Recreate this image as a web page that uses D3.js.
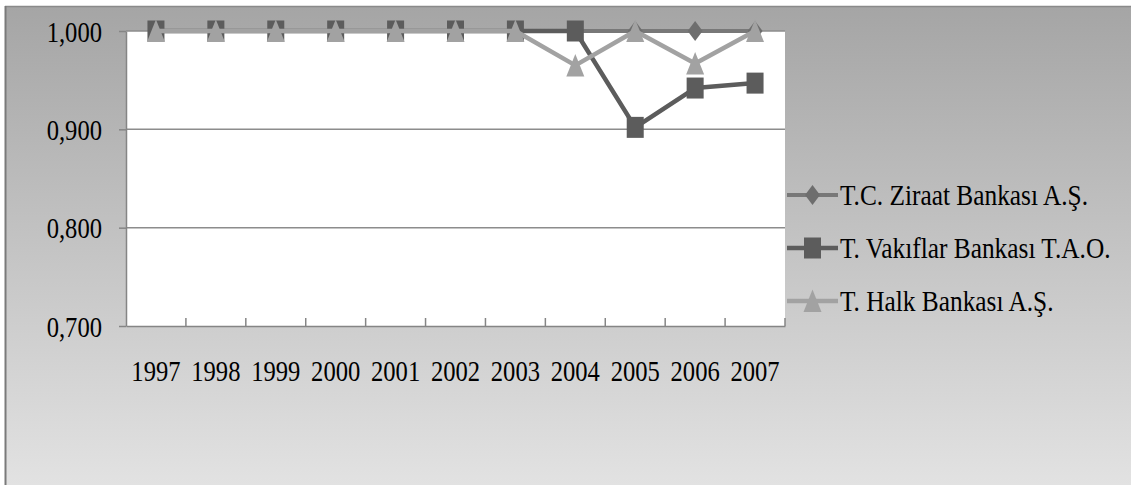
<!DOCTYPE html>
<html>
<head>
<meta charset="utf-8">
<script src="https://cdn.jsdelivr.net/npm/d3@7"></script>
<style>
  html, body { margin: 0; padding: 0; background: #fff; }
  svg { display: block; }
  text { font-family: "Liberation Serif", "Times New Roman", "DejaVu Serif", serif; fill: #000; }
</style>
</head>
<body>
<svg id="chart" width="1131" height="485"></svg>
<script>
// data
var years = ["1997", "1998", "1999", "2000", "2001", "2002", "2003", "2004", "2005", "2006", "2007"];
var ziraat = [1.000, 1.000, 1.000, 1.000, 1.000, 1.000, 1.000, 1.000, 1.000, 1.000, 1.000];
var vakiflar = [1.000, 1.000, 1.000, 1.000, 1.000, 1.000, 1.000, 1.000, 0.902, 0.942, 0.947];
var halk = [1.000, 1.000, 1.000, 1.000, 1.000, 1.000, 1.000, 0.965, 1.000, 0.967, 1.000];
var seriesNames = ["T.C. Ziraat Bankası A.Ş.", "T. Vakıflar Bankası T.A.O.", "T. Halk Bankası A.Ş."];
var yTicks = [0.7, 0.8, 0.9, 1.0];

var W = 1131, H = 485;
var sx = 0.82; // text looks horizontally squeezed
var svg = d3.select("#chart");

var defs = svg.append("defs");
var grad = defs.append("linearGradient").attr("id", "bg").attr("x1", 0).attr("y1", 0).attr("x2", 0).attr("y2", 1);
grad.append("stop").attr("offset", "0%").attr("stop-color", "#a5a5a5");
grad.append("stop").attr("offset", "100%").attr("stop-color", "#e2e2e2");

// chart area background + border
svg.append("rect").attr("x", 5).attr("y", 6).attr("width", W - 5).attr("height", H - 6).attr("fill", "url(#bg)");
svg.append("line").attr("x1", 5).attr("x2", W).attr("y1", 6.5).attr("y2", 6.5).attr("stroke", "#8a8a8a").attr("stroke-width", 1.5);
svg.append("line").attr("x1", 5.5).attr("x2", 5.5).attr("y1", 6).attr("y2", H).attr("stroke", "#7a7a7a").attr("stroke-width", 2);

var plot = { left: 126, right: 785, top: 31, bottom: 326 };

var x = d3.scaleBand().domain(years).range([plot.left, plot.right]).padding(0);
var y = d3.scaleLinear().domain([0.7, 1.0]).range([plot.bottom, plot.top]);

svg.append("rect").attr("x", plot.left).attr("y", plot.top)
  .attr("width", plot.right - plot.left).attr("height", plot.bottom - plot.top).attr("fill", "#fff");

// gridlines
svg.append("g").selectAll("line").data(yTicks.filter(function(d) { return d > 0.7; })).enter()
  .append("line")
  .attr("x1", plot.left).attr("x2", plot.right)
  .attr("y1", function(d) { return y(d); }).attr("y2", function(d) { return y(d); })
  .attr("stroke", "#8c8c8c").attr("stroke-width", 1.5);

var fmt = d3.formatLocale({ decimal: ",", thousands: ".", grouping: [3], currency: ["", ""] }).format(".3f");

// y axis
var yAxis = svg.append("g").attr("transform", "translate(" + plot.left + ",0)")
  .call(d3.axisLeft(y).tickValues(yTicks).tickFormat(fmt).tickSize(7).tickSizeOuter(0));
yAxis.attr("font-family", null);
yAxis.select(".domain").attr("stroke", "#858585").attr("stroke-width", 1.5);
yAxis.selectAll(".tick line").attr("stroke", "#858585").attr("stroke-width", 1.5);
yAxis.selectAll(".tick text")
  .attr("x", -24 / sx).attr("dy", "0.34em")
  .attr("transform", "scale(" + sx + ",1)")
  .style("font-size", "30px").attr("fill", "#000");

// x axis: labels at band centres, ticks at band edges
var xAxis = svg.append("g").attr("transform", "translate(0," + plot.bottom + ")")
  .call(d3.axisBottom(x).tickSize(0).tickSizeOuter(0));
xAxis.attr("font-family", null);
xAxis.select(".domain").attr("stroke", "#858585").attr("stroke-width", 1.5);
xAxis.selectAll(".tick text")
  .attr("y", 55).attr("dy", null)
  .attr("transform", "scale(" + sx + ",1)")
  .style("font-size", "30px").attr("fill", "#000");
var edges = years.map(function(d) { return x(d); }).concat([x(years[years.length - 1]) + x.bandwidth()]);
xAxis.selectAll(".edge").data(edges.slice(1)).enter().append("line")
  .attr("x1", function(d) { return d; }).attr("x2", function(d) { return d; })
  .attr("y1", 0).attr("y2", -8)
  .attr("stroke", "#858585").attr("stroke-width", 1.5);

// marker shapes (stretched vertically like the picture)
function marker(g, kind, color) {
  if (kind === "diamond") {
    g.append("path").attr("d", "M0,-10 L7.5,0 L0,10 L-7.5,0 Z").attr("fill", color);
  } else if (kind === "square") {
    g.append("rect").attr("x", -8.5).attr("y", -10.5).attr("width", 17).attr("height", 21).attr("fill", color);
  } else {
    g.append("path").attr("d", "M0,-11.5 L9,11 L-9,11 Z").attr("fill", color);
  }
}

var series = [
  { name: seriesNames[0], values: ziraat, line: "#787878", fill: "#6e6e6e", kind: "diamond", width: 4 },
  { name: seriesNames[1], values: vakiflar, line: "#5c5c5c", fill: "#5c5c5c", kind: "square", width: 4.5 },
  { name: seriesNames[2], values: halk, line: "#a2a2a2", fill: "#a2a2a2", kind: "triangle", width: 4.5 }
];

var line = d3.line()
  .x(function(d, i) { return x(years[i]) + x.bandwidth() / 2; })
  .y(function(d) { return y(d); });

series.forEach(function(s) {
  var g = svg.append("g");
  g.append("path").attr("d", line(s.values)).attr("fill", "none")
    .attr("stroke", s.line).attr("stroke-width", s.width).attr("stroke-linejoin", "round");
  s.values.forEach(function(v, i) {
    var m = g.append("g").attr("transform", "translate(" + (x(years[i]) + x.bandwidth() / 2) + "," + y(v) + ")");
    marker(m, s.kind, s.fill);
  });
});

// legend
var legend = svg.append("g");
series.forEach(function(s, i) {
  var ly = 195 + i * 53;
  var g = legend.append("g").attr("transform", "translate(787," + ly + ")");
  g.append("line").attr("x1", 0).attr("x2", 51).attr("y1", 0).attr("y2", 0)
    .attr("stroke", s.line).attr("stroke-width", s.width);
  var m = g.append("g").attr("transform", "translate(25.5,0)");
  marker(m, s.kind, s.fill);
  g.append("text").attr("transform", "translate(53,10) scale(0.845,1)")
    .style("font-size", "30px").text(s.name);
});
</script>
</body>
</html>
